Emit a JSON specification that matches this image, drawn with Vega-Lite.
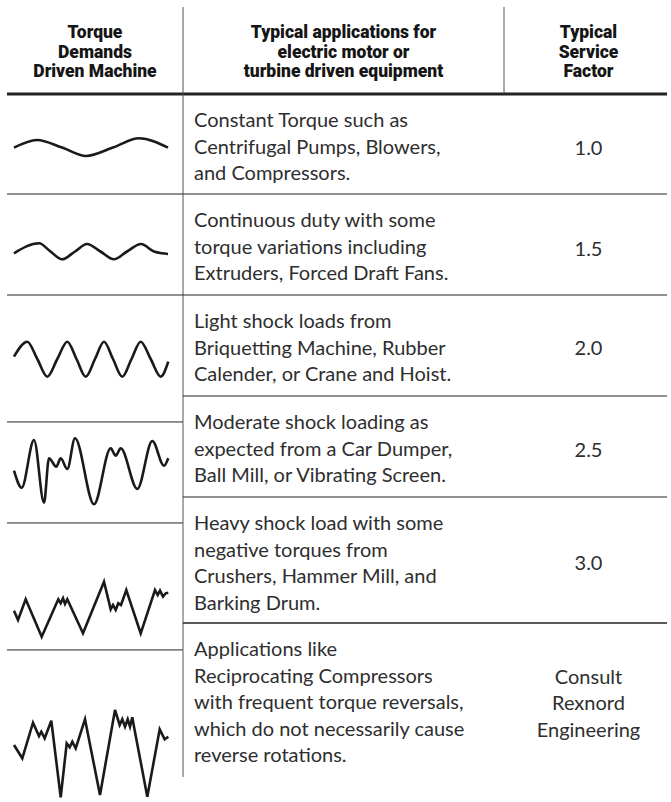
{
  "$schema": "https://vega.github.io/schema/vega-lite/v6.json",
  "padding": {"left": 5, "top": 6, "right": 0, "bottom": 0},
  "columns": 3,
  "spacing": 0,
  "bounds": "flush",
  "align": "each",
  "datasets": {
    "header": [
      {"column": "machine", "title": "Torque Demands Driven Machine"},
      {"column": "application", "title": "Typical applications for electric motor or turbine driven equipment"},
      {"column": "factor", "title": "Typical Service Factor"}
    ],
    "header_lines": [
      {"column": "machine", "line": 1, "text": "Torque"},
      {"column": "machine", "line": 2, "text": "Demands"},
      {"column": "machine", "line": 3, "text": "Driven Machine"},
      {"column": "application", "line": 1, "text": "Typical applications for"},
      {"column": "application", "line": 2, "text": "electric motor or"},
      {"column": "application", "line": 3, "text": "turbine driven equipment"},
      {"column": "factor", "line": 1, "text": "Typical"},
      {"column": "factor", "line": 2, "text": "Service"},
      {"column": "factor", "line": 3, "text": "Factor"}
    ],
    "rows": [
      {"row": 1, "load": "constant"}, {"row": 2, "load": "continuous"}, {"row": 3, "load": "light shock"},
      {"row": 4, "load": "moderate shock"}, {"row": 5, "load": "heavy shock"}, {"row": 6, "load": "reversing"}
    ],
    "applications": [
      {"row": 1, "line": 1, "text": "Constant Torque such as"},
      {"row": 1, "line": 2, "text": "Centrifugal Pumps, Blowers,"},
      {"row": 1, "line": 3, "text": "and Compressors."},
      {"row": 2, "line": 1, "text": "Continuous duty with some"},
      {"row": 2, "line": 2, "text": "torque variations including"},
      {"row": 2, "line": 3, "text": "Extruders, Forced Draft Fans."},
      {"row": 3, "line": 1, "text": "Light shock loads from"},
      {"row": 3, "line": 2, "text": "Briquetting Machine, Rubber"},
      {"row": 3, "line": 3, "text": "Calender, or Crane and Hoist."},
      {"row": 4, "line": 1, "text": "Moderate shock loading as"},
      {"row": 4, "line": 2, "text": "expected from a Car Dumper,"},
      {"row": 4, "line": 3, "text": "Ball Mill, or Vibrating Screen."},
      {"row": 5, "line": 1, "text": "Heavy shock load with some"},
      {"row": 5, "line": 2, "text": "negative torques from"},
      {"row": 5, "line": 3, "text": "Crushers, Hammer Mill, and"},
      {"row": 5, "line": 4, "text": "Barking Drum."},
      {"row": 6, "line": 1, "text": "Applications like"},
      {"row": 6, "line": 2, "text": "Reciprocating Compressors"},
      {"row": 6, "line": 3, "text": "with frequent torque reversals,"},
      {"row": 6, "line": 4, "text": "which do not necessarily cause"},
      {"row": 6, "line": 5, "text": "reverse rotations."}
    ],
    "factors": [
      {"row": 1, "line": 1, "text": "1.0"},
      {"row": 2, "line": 1, "text": "1.5"},
      {"row": 3, "line": 1, "text": "2.0"},
      {"row": 4, "line": 1, "text": "2.5"},
      {"row": 5, "line": 1, "text": "3.0"},
      {"row": 6, "line": 1, "text": "Consult"},
      {"row": 6, "line": 2, "text": "Rexnord"},
      {"row": 6, "line": 3, "text": "Engineering"}
    ],
    "waves": [
      {"row": 1, "t": 0, "torque": -0.2}, {"row": 1, "t": 23, "torque": 7.5}, {"row": 1, "t": 48, "torque": 0}, {"row": 1, "t": 72, "torque": -8.5}, {"row": 1, "t": 99, "torque": 0}, {"row": 1, "t": 125, "torque": 9.2}, {"row": 1, "t": 154, "torque": -0.2},
      {"row": 2, "t": 0, "torque": -1.8}, {"row": 2, "t": 25, "torque": 8.2}, {"row": 2, "t": 36.5, "torque": 0}, {"row": 2, "t": 48, "torque": -7.8}, {"row": 2, "t": 61, "torque": 0}, {"row": 2, "t": 73, "torque": 7.5}, {"row": 2, "t": 86.5, "torque": 0}, {"row": 2, "t": 100, "torque": -7.8}, {"row": 2, "t": 113, "torque": 0}, {"row": 2, "t": 127, "torque": 7.5}, {"row": 2, "t": 140, "torque": 0}, {"row": 2, "t": 148, "torque": -1.8}, {"row": 2, "t": 154, "torque": -2.5},
      {"row": 3, "t": 0, "torque": 2.3}, {"row": 3, "t": 13.3, "torque": 17.3}, {"row": 3, "t": 23.3, "torque": 0}, {"row": 3, "t": 33.3, "torque": -17.7}, {"row": 3, "t": 43.3, "torque": 0}, {"row": 3, "t": 53.3, "torque": 17.3}, {"row": 3, "t": 62.5, "torque": 0}, {"row": 3, "t": 71.7, "torque": -17.7}, {"row": 3, "t": 81, "torque": 0}, {"row": 3, "t": 90, "torque": 17.3}, {"row": 3, "t": 99, "torque": 0}, {"row": 3, "t": 108.3, "torque": -17.7}, {"row": 3, "t": 117.5, "torque": 0}, {"row": 3, "t": 126.7, "torque": 17.3}, {"row": 3, "t": 136.7, "torque": 0}, {"row": 3, "t": 146.7, "torque": -17.7}, {"row": 3, "t": 154.3, "torque": -2.7},
      {"row": 4, "t": 0, "torque": 0.3}, {"row": 4, "t": 7.7, "torque": -16.7}, {"row": 4, "t": 20, "torque": 31}, {"row": 4, "t": 30, "torque": -31.7}, {"row": 4, "t": 35, "torque": 12.7}, {"row": 4, "t": 42.3, "torque": 4.3}, {"row": 4, "t": 46.7, "torque": 12.7}, {"row": 4, "t": 53.3, "torque": 2}, {"row": 4, "t": 61, "torque": 32.7}, {"row": 4, "t": 80, "torque": -33.3}, {"row": 4, "t": 96.7, "torque": 22.7}, {"row": 4, "t": 101.7, "torque": 15.3}, {"row": 4, "t": 106.7, "torque": 22.7}, {"row": 4, "t": 123.3, "torque": -18}, {"row": 4, "t": 138.3, "torque": 30}, {"row": 4, "t": 150, "torque": 5.3}, {"row": 4, "t": 154.3, "torque": 12.7},
      {"row": 5, "t": 0, "torque": -1.7}, {"row": 5, "t": 4, "torque": -11}, {"row": 5, "t": 11.7, "torque": 9.7}, {"row": 5, "t": 27.7, "torque": -27.7}, {"row": 5, "t": 44.3, "torque": 9.7}, {"row": 5, "t": 46.7, "torque": 5.7}, {"row": 5, "t": 49, "torque": 10.7}, {"row": 5, "t": 51, "torque": 5}, {"row": 5, "t": 53.3, "torque": 9.7}, {"row": 5, "t": 69, "torque": -24.3}, {"row": 5, "t": 90, "torque": 27.3}, {"row": 5, "t": 96.7, "torque": -0.3}, {"row": 5, "t": 99, "torque": 4}, {"row": 5, "t": 101.7, "torque": -1}, {"row": 5, "t": 104.3, "torque": 5.7}, {"row": 5, "t": 107, "torque": 4}, {"row": 5, "t": 112.3, "torque": 19}, {"row": 5, "t": 126.7, "torque": -24.3}, {"row": 5, "t": 141, "torque": 19}, {"row": 5, "t": 143.7, "torque": 14}, {"row": 5, "t": 146, "torque": 18.3}, {"row": 5, "t": 149, "torque": 12.3}, {"row": 5, "t": 151.7, "torque": 15.7}, {"row": 5, "t": 154.3, "torque": 16.3},
      {"row": 6, "t": 0, "torque": 8}, {"row": 6, "t": 8.3, "torque": -5.3}, {"row": 6, "t": 19, "torque": 30.3}, {"row": 6, "t": 25, "torque": 17}, {"row": 6, "t": 27.3, "torque": 21.3}, {"row": 6, "t": 30.7, "torque": 14.7}, {"row": 6, "t": 37.3, "torque": 32.3}, {"row": 6, "t": 46.7, "torque": -44.3}, {"row": 6, "t": 52.7, "torque": 9.7}, {"row": 6, "t": 55.7, "torque": 5.7}, {"row": 6, "t": 58.3, "torque": 11.3}, {"row": 6, "t": 61.7, "torque": 4.7}, {"row": 6, "t": 71, "torque": 33.7}, {"row": 6, "t": 86, "torque": -42}, {"row": 6, "t": 101, "torque": 43}, {"row": 6, "t": 105.7, "torque": 28}, {"row": 6, "t": 108.3, "torque": 33.7}, {"row": 6, "t": 111, "torque": 26.3}, {"row": 6, "t": 113.7, "torque": 33.7}, {"row": 6, "t": 116, "torque": 26.3}, {"row": 6, "t": 118.3, "torque": 35.7}, {"row": 6, "t": 120, "torque": 26.3}, {"row": 6, "t": 133.3, "torque": -43.7}, {"row": 6, "t": 145.7, "torque": 23.7}, {"row": 6, "t": 150.7, "torque": 13.7}, {"row": 6, "t": 154.3, "torque": 16.3}
    ]
  },
  "concat": [
    {
      "width": 176, "height": 87,
      "layer": [
        {"data": {"name": "header_lines"}, "transform": [{"filter": "datum.column === 'machine'"}],
         "mark": {"type": "text", "font": "Roboto", "fontSize": 17.5, "fontWeight": 900, "fill": "#151515", "dy": 1},
         "encoding": {"y": {"field": "line", "type": "quantitative", "scale": {"domain": [0, 4], "range": [5.5, 83.5]}, "axis": null}, "text": {"field": "text"}}},
        {"data": {"name": "header"}, "transform": [{"filter": "datum.column === 'machine'"}],
         "mark": {"type": "rule", "strokeWidth": 3, "stroke": "#222"},
         "encoding": {"y": {"datum": 0, "type": "quantitative", "scale": {"domain": [0, 1]}, "axis": null}}}
      ],
      "resolve": {"scale": {"y": "independent"}}
    },
    {
      "width": 321, "height": 87,
      "layer": [
        {"data": {"name": "header_lines"}, "transform": [{"filter": "datum.column === 'application'"}],
         "mark": {"type": "text", "font": "Roboto", "fontSize": 17.5, "fontWeight": 900, "fill": "#151515", "dy": 1},
         "encoding": {"y": {"field": "line", "type": "quantitative", "scale": {"domain": [0, 4], "range": [5.5, 83.5]}, "axis": null}, "text": {"field": "text"}}},
        {"data": {"name": "header"}, "transform": [{"filter": "datum.column === 'application'"}],
         "mark": {"type": "rule", "stroke": "#555"},
         "encoding": {"x": {"datum": 0, "type": "quantitative", "scale": {"domain": [0, 1]}, "axis": null}}},
        {"data": {"name": "header"}, "transform": [{"filter": "datum.column === 'application'"}],
         "mark": {"type": "rule", "strokeWidth": 3, "stroke": "#222"},
         "encoding": {"y": {"datum": 0, "type": "quantitative", "scale": {"domain": [0, 1]}, "axis": null}}}
      ],
      "resolve": {"scale": {"y": "independent"}}
    },
    {
      "width": 163, "height": 87,
      "layer": [
        {"data": {"name": "header_lines"}, "transform": [{"filter": "datum.column === 'factor'"}],
         "mark": {"type": "text", "font": "Roboto", "fontSize": 17.5, "fontWeight": 900, "fill": "#151515", "dy": 1, "dx": 3},
         "encoding": {"y": {"field": "line", "type": "quantitative", "scale": {"domain": [0, 4], "range": [5.5, 83.5]}, "axis": null}, "text": {"field": "text"}}},
        {"data": {"name": "header"}, "transform": [{"filter": "datum.column === 'factor'"}],
         "mark": {"type": "rule", "stroke": "#555"},
         "encoding": {"x": {"datum": 0, "type": "quantitative", "scale": {"domain": [0, 1]}, "axis": null}}},
        {"data": {"name": "header"}, "transform": [{"filter": "datum.column === 'factor'"}],
         "mark": {"type": "rule", "strokeWidth": 3, "stroke": "#222"},
         "encoding": {"y": {"datum": 0, "type": "quantitative", "scale": {"domain": [0, 1]}, "axis": null}}}
      ],
      "resolve": {"scale": {"y": "independent"}}
    },

    {
      "width": 176, "height": 100,
      "data": {"name": "waves"}, "transform": [{"filter": "datum.row === 1"}],
      "mark": {"type": "line", "interpolate": "monotone", "stroke": "#1a1a1a", "strokeWidth": 2.6},
      "encoding": {
        "x": {"field": "t", "type": "quantitative", "scale": {"domain": [0, 154], "range": [7, 161]}, "axis": null},
        "y": {"field": "torque", "type": "quantitative", "scale": {"domain": [-50, 50], "range": [103.5, 3.5]}, "axis": null}
      }
    },
    {
      "width": 321, "height": 100,
      "layer": [
        {"data": {"name": "applications"}, "transform": [{"filter": "datum.row === 1"}],
         "mark": {"type": "text", "align": "left", "dx": 11, "dy": 1},
         "encoding": {"x": {"datum": 0, "type": "quantitative", "scale": {"domain": [0, 1]}, "axis": null}, "y": {"field": "line", "type": "quantitative", "scale": {"domain": [0, 4], "range": [0, 105.6]}, "axis": null}, "text": {"field": "text"}}},
        {"data": {"name": "rows"}, "transform": [{"filter": "datum.row === 1"}],
         "mark": {"type": "rule", "stroke": "#555"},
         "encoding": {"x": {"datum": 0, "type": "quantitative", "axis": null}}}
      ]
    },
    {
      "width": 163, "height": 100,
      "data": {"name": "factors"}, "transform": [{"filter": "datum.row === 1"}],
      "layer": [
        {"mark": {"type": "text", "dy": 5, "dx": 3},
         "encoding": {"y": {"field": "line", "type": "ordinal", "scale": {"type": "point"}, "axis": null}, "text": {"field": "text"}}}
      ]
    },

    {
      "width": 176, "height": 101,
      "layer": [
        {"data": {"name": "waves"}, "transform": [{"filter": "datum.row === 2"}],
         "mark": {"type": "line", "interpolate": "monotone", "stroke": "#1a1a1a", "strokeWidth": 2.6},
         "encoding": {
           "x": {"field": "t", "type": "quantitative", "scale": {"domain": [0, 154], "range": [7, 161]}, "axis": null},
           "y": {"field": "torque", "type": "quantitative", "scale": {"domain": [-50, 50], "range": [107.5, 7.5]}, "axis": null}}},
        {"data": {"name": "rows"}, "transform": [{"filter": "datum.row === 2"}],
         "mark": {"type": "rule", "stroke": "#222"},
         "encoding": {"y": {"datum": 1, "type": "quantitative", "scale": {"domain": [0, 1]}, "axis": null}}}
      ],
      "resolve": {"scale": {"y": "independent"}}
    },
    {
      "width": 321, "height": 101,
      "layer": [
        {"data": {"name": "applications"}, "transform": [{"filter": "datum.row === 2"}],
         "mark": {"type": "text", "align": "left", "dx": 11, "dy": 1},
         "encoding": {"x": {"datum": 0, "type": "quantitative", "scale": {"domain": [0, 1]}, "axis": null}, "y": {"field": "line", "type": "quantitative", "scale": {"domain": [0, 4], "range": [0, 105.6]}, "axis": null}, "text": {"field": "text"}}},
        {"data": {"name": "rows"}, "transform": [{"filter": "datum.row === 2"}],
         "mark": {"type": "rule", "stroke": "#555"},
         "encoding": {"x": {"datum": 0, "type": "quantitative", "axis": null}}},
        {"data": {"name": "rows"}, "transform": [{"filter": "datum.row === 2"}],
         "mark": {"type": "rule", "stroke": "#222"},
         "encoding": {"y": {"datum": 1, "type": "quantitative", "scale": {"domain": [0, 1]}, "axis": null}}}
      ],
      "resolve": {"scale": {"y": "independent"}}
    },
    {
      "width": 163, "height": 101,
      "layer": [
        {"data": {"name": "factors"}, "transform": [{"filter": "datum.row === 2"}],
         "mark": {"type": "text", "dy": 5, "dx": 3},
         "encoding": {"y": {"field": "line", "type": "ordinal", "scale": {"type": "point"}, "axis": null}, "text": {"field": "text"}}},
        {"data": {"name": "rows"}, "transform": [{"filter": "datum.row === 2"}],
         "mark": {"type": "rule", "stroke": "#222"},
         "encoding": {"y": {"datum": 1, "type": "quantitative", "scale": {"domain": [0, 1]}, "axis": null}}}
      ],
      "resolve": {"scale": {"y": "independent"}}
    },

    {
      "width": 176, "height": 101,
      "layer": [
        {"data": {"name": "waves"}, "transform": [{"filter": "datum.row === 3"}],
         "mark": {"type": "line", "interpolate": "monotone", "stroke": "#1a1a1a", "strokeWidth": 2.6},
         "encoding": {
           "x": {"field": "t", "type": "quantitative", "scale": {"domain": [0, 154], "range": [7, 161]}, "axis": null},
           "y": {"field": "torque", "type": "quantitative", "scale": {"domain": [-50, 50], "range": [114, 14]}, "axis": null}}},
        {"data": {"name": "rows"}, "transform": [{"filter": "datum.row === 3"}],
         "mark": {"type": "rule", "stroke": "#222"},
         "encoding": {"y": {"datum": 1, "type": "quantitative", "scale": {"domain": [0, 1]}, "axis": null}}}
      ],
      "resolve": {"scale": {"y": "independent"}}
    },
    {
      "width": 321, "height": 101,
      "layer": [
        {"data": {"name": "applications"}, "transform": [{"filter": "datum.row === 3"}],
         "mark": {"type": "text", "align": "left", "dx": 11, "dy": 1},
         "encoding": {"x": {"datum": 0, "type": "quantitative", "scale": {"domain": [0, 1]}, "axis": null}, "y": {"field": "line", "type": "quantitative", "scale": {"domain": [0, 4], "range": [0, 105.6]}, "axis": null}, "text": {"field": "text"}}},
        {"data": {"name": "rows"}, "transform": [{"filter": "datum.row === 3"}],
         "mark": {"type": "rule", "stroke": "#555"},
         "encoding": {"x": {"datum": 0, "type": "quantitative", "axis": null}}},
        {"data": {"name": "rows"}, "transform": [{"filter": "datum.row === 3"}],
         "mark": {"type": "rule", "stroke": "#222"},
         "encoding": {"y": {"datum": 1, "type": "quantitative", "scale": {"domain": [0, 1]}, "axis": null}}}
      ],
      "resolve": {"scale": {"y": "independent"}}
    },
    {
      "width": 163, "height": 101,
      "layer": [
        {"data": {"name": "factors"}, "transform": [{"filter": "datum.row === 3"}],
         "mark": {"type": "text", "dy": 3, "dx": 3},
         "encoding": {"y": {"field": "line", "type": "ordinal", "scale": {"type": "point"}, "axis": null}, "text": {"field": "text"}}},
        {"data": {"name": "rows"}, "transform": [{"filter": "datum.row === 3"}],
         "mark": {"type": "rule", "stroke": "#222"},
         "encoding": {"y": {"datum": 1, "type": "quantitative", "scale": {"domain": [0, 1]}, "axis": null}}}
      ],
      "resolve": {"scale": {"y": "independent"}}
    },

    {
      "width": 176, "height": 101,
      "layer": [
        {"data": {"name": "waves"}, "transform": [{"filter": "datum.row === 4"}],
         "mark": {"type": "line", "interpolate": "monotone", "stroke": "#1a1a1a", "strokeWidth": 2.6},
         "encoding": {
           "x": {"field": "t", "type": "quantitative", "scale": {"domain": [0, 154], "range": [7, 161]}, "axis": null},
           "y": {"field": "torque", "type": "quantitative", "scale": {"domain": [-50, 50], "range": [125, 25]}, "axis": null}}},
        {"data": {"name": "rows"}, "transform": [{"filter": "datum.row === 4"}],
         "mark": {"type": "rule", "stroke": "#222"},
         "encoding": {"y": {"datum": 0.743, "type": "quantitative", "scale": {"domain": [0, 1]}, "axis": null}}}
      ],
      "resolve": {"scale": {"y": "independent"}}
    },
    {
      "width": 321, "height": 101,
      "layer": [
        {"data": {"name": "applications"}, "transform": [{"filter": "datum.row === 4"}],
         "mark": {"type": "text", "align": "left", "dx": 11, "dy": 1},
         "encoding": {"x": {"datum": 0, "type": "quantitative", "scale": {"domain": [0, 1]}, "axis": null}, "y": {"field": "line", "type": "quantitative", "scale": {"domain": [0, 4], "range": [0, 105.6]}, "axis": null}, "text": {"field": "text"}}},
        {"data": {"name": "rows"}, "transform": [{"filter": "datum.row === 4"}],
         "mark": {"type": "rule", "stroke": "#555"},
         "encoding": {"x": {"datum": 0, "type": "quantitative", "axis": null}}},
        {"data": {"name": "rows"}, "transform": [{"filter": "datum.row === 4"}],
         "mark": {"type": "rule", "stroke": "#222"},
         "encoding": {"y": {"datum": 1, "type": "quantitative", "scale": {"domain": [0, 1]}, "axis": null}}}
      ],
      "resolve": {"scale": {"y": "independent"}}
    },
    {
      "width": 163, "height": 101,
      "layer": [
        {"data": {"name": "factors"}, "transform": [{"filter": "datum.row === 4"}],
         "mark": {"type": "text", "dy": 4, "dx": 3},
         "encoding": {"y": {"field": "line", "type": "ordinal", "scale": {"type": "point"}, "axis": null}, "text": {"field": "text"}}},
        {"data": {"name": "rows"}, "transform": [{"filter": "datum.row === 4"}],
         "mark": {"type": "rule", "stroke": "#222"},
         "encoding": {"y": {"datum": 1, "type": "quantitative", "scale": {"domain": [0, 1]}, "axis": null}}}
      ],
      "resolve": {"scale": {"y": "independent"}}
    },

    {
      "width": 176, "height": 126,
      "layer": [
        {"data": {"name": "waves"}, "transform": [{"filter": "datum.row === 5"}],
         "mark": {"type": "line", "stroke": "#1a1a1a", "strokeWidth": 2.6},
         "encoding": {
           "x": {"field": "t", "type": "quantitative", "scale": {"domain": [0, 154], "range": [7, 161]}, "axis": null},
           "y": {"field": "torque", "type": "quantitative", "scale": {"domain": [-50, 50], "range": [162, 62]}, "axis": null}}},
        {"data": {"name": "rows"}, "transform": [{"filter": "datum.row === 5"}],
         "mark": {"type": "rule", "stroke": "#222"},
         "encoding": {"y": {"datum": 0.794, "type": "quantitative", "scale": {"domain": [0, 1]}, "axis": null}}}
      ],
      "resolve": {"scale": {"y": "independent"}}
    },
    {
      "width": 321, "height": 126,
      "layer": [
        {"data": {"name": "applications"}, "transform": [{"filter": "datum.row === 5"}],
         "mark": {"type": "text", "align": "left", "dx": 11, "dy": 1},
         "encoding": {"x": {"datum": 0, "type": "quantitative", "scale": {"domain": [0, 1]}, "axis": null}, "y": {"field": "line", "type": "quantitative", "scale": {"domain": [0, 4], "range": [0, 105.6]}, "axis": null}, "text": {"field": "text"}}},
        {"data": {"name": "rows"}, "transform": [{"filter": "datum.row === 5"}],
         "mark": {"type": "rule", "stroke": "#555"},
         "encoding": {"x": {"datum": 0, "type": "quantitative", "axis": null}}},
        {"data": {"name": "rows"}, "transform": [{"filter": "datum.row === 5"}],
         "mark": {"type": "rule", "stroke": "#222"},
         "encoding": {"y": {"datum": 1, "type": "quantitative", "scale": {"domain": [0, 1]}, "axis": null}}}
      ],
      "resolve": {"scale": {"y": "independent"}}
    },
    {
      "width": 163, "height": 126,
      "layer": [
        {"data": {"name": "factors"}, "transform": [{"filter": "datum.row === 5"}],
         "mark": {"type": "text", "dy": 4, "dx": 3},
         "encoding": {"y": {"field": "line", "type": "ordinal", "scale": {"type": "point"}, "axis": null}, "text": {"field": "text"}}},
        {"data": {"name": "rows"}, "transform": [{"filter": "datum.row === 5"}],
         "mark": {"type": "rule", "stroke": "#222"},
         "encoding": {"y": {"datum": 1, "type": "quantitative", "scale": {"domain": [0, 1]}, "axis": null}}}
      ],
      "resolve": {"scale": {"y": "independent"}}
    },

    {
      "width": 176, "height": 154,
      "layer": [
        {"data": {"name": "waves"}, "transform": [{"filter": "datum.row === 6"}],
         "mark": {"type": "line", "stroke": "#1a1a1a", "strokeWidth": 2.6},
         "encoding": {
           "x": {"field": "t", "type": "quantitative", "scale": {"domain": [0, 154], "range": [7, 161]}, "axis": null},
           "y": {"field": "torque", "type": "quantitative", "scale": {"domain": [-50, 50], "range": [180, 80]}, "axis": null}}},
        {"data": {"name": "rows"}, "transform": [{"filter": "datum.row === 6"}],
         "mark": {"type": "rule", "stroke": "#222"},
         "encoding": {"y": {"datum": 0.825, "type": "quantitative", "scale": {"domain": [0, 1]}, "axis": null}}}
      ],
      "resolve": {"scale": {"y": "independent"}}
    },
    {
      "width": 321, "height": 154,
      "layer": [
        {"data": {"name": "applications"}, "transform": [{"filter": "datum.row === 6"}],
         "mark": {"type": "text", "align": "left", "dx": 11, "dy": 1},
         "encoding": {"x": {"datum": 0, "type": "quantitative", "scale": {"domain": [0, 1]}, "axis": null}, "y": {"field": "line", "type": "quantitative", "scale": {"domain": [0, 4], "range": [0, 105.6]}, "axis": null}, "text": {"field": "text"}}},
        {"data": {"name": "rows"}, "transform": [{"filter": "datum.row === 6"}],
         "mark": {"type": "rule", "stroke": "#555"},
         "encoding": {"x": {"datum": 0, "type": "quantitative", "axis": null}}},
        {"data": {"name": "rows"}, "transform": [{"filter": "datum.row === 6"}],
         "mark": {"type": "rule", "stroke": "#222"},
         "encoding": {"y": {"datum": 1, "type": "quantitative", "scale": {"domain": [0, 1]}, "axis": null}}},
        {"data": {"name": "rows"}, "transform": [{"filter": "datum.row === 6"}],
         "mark": {"type": "rule", "stroke": "#222"},
         "encoding": {"y": {"datum": 0, "type": "quantitative", "axis": null}}}
      ],
      "resolve": {"scale": {"y": "independent"}}
    },
    {
      "width": 163, "height": 154,
      "layer": [
        {"data": {"name": "factors"}, "transform": [{"filter": "datum.row === 6"}],
         "mark": {"type": "text", "dy": 2, "dx": 3},
         "encoding": {"y": {"field": "line", "type": "quantitative", "scale": {"domain": [0, 4], "range": [26.4, 132]}, "axis": null}, "text": {"field": "text"}}},
        {"data": {"name": "rows"}, "transform": [{"filter": "datum.row === 6"}],
         "mark": {"type": "rule", "stroke": "#222"},
         "encoding": {"y": {"datum": 1, "type": "quantitative", "scale": {"domain": [0, 1]}, "axis": null}}},
        {"data": {"name": "rows"}, "transform": [{"filter": "datum.row === 6"}],
         "mark": {"type": "rule", "stroke": "#222"},
         "encoding": {"y": {"datum": 0, "type": "quantitative", "axis": null}}}
      ],
      "resolve": {"scale": {"y": "independent"}}
    }
  ],
  "config": {
    "view": {"stroke": null},
    "concat": {"spacing": 0},
    "text": {"font": "Lato", "fontSize": 20, "fill": "#2e2e2e", "baseline": "middle"},
    "rule": {"strokeWidth": 1}
  }
}
